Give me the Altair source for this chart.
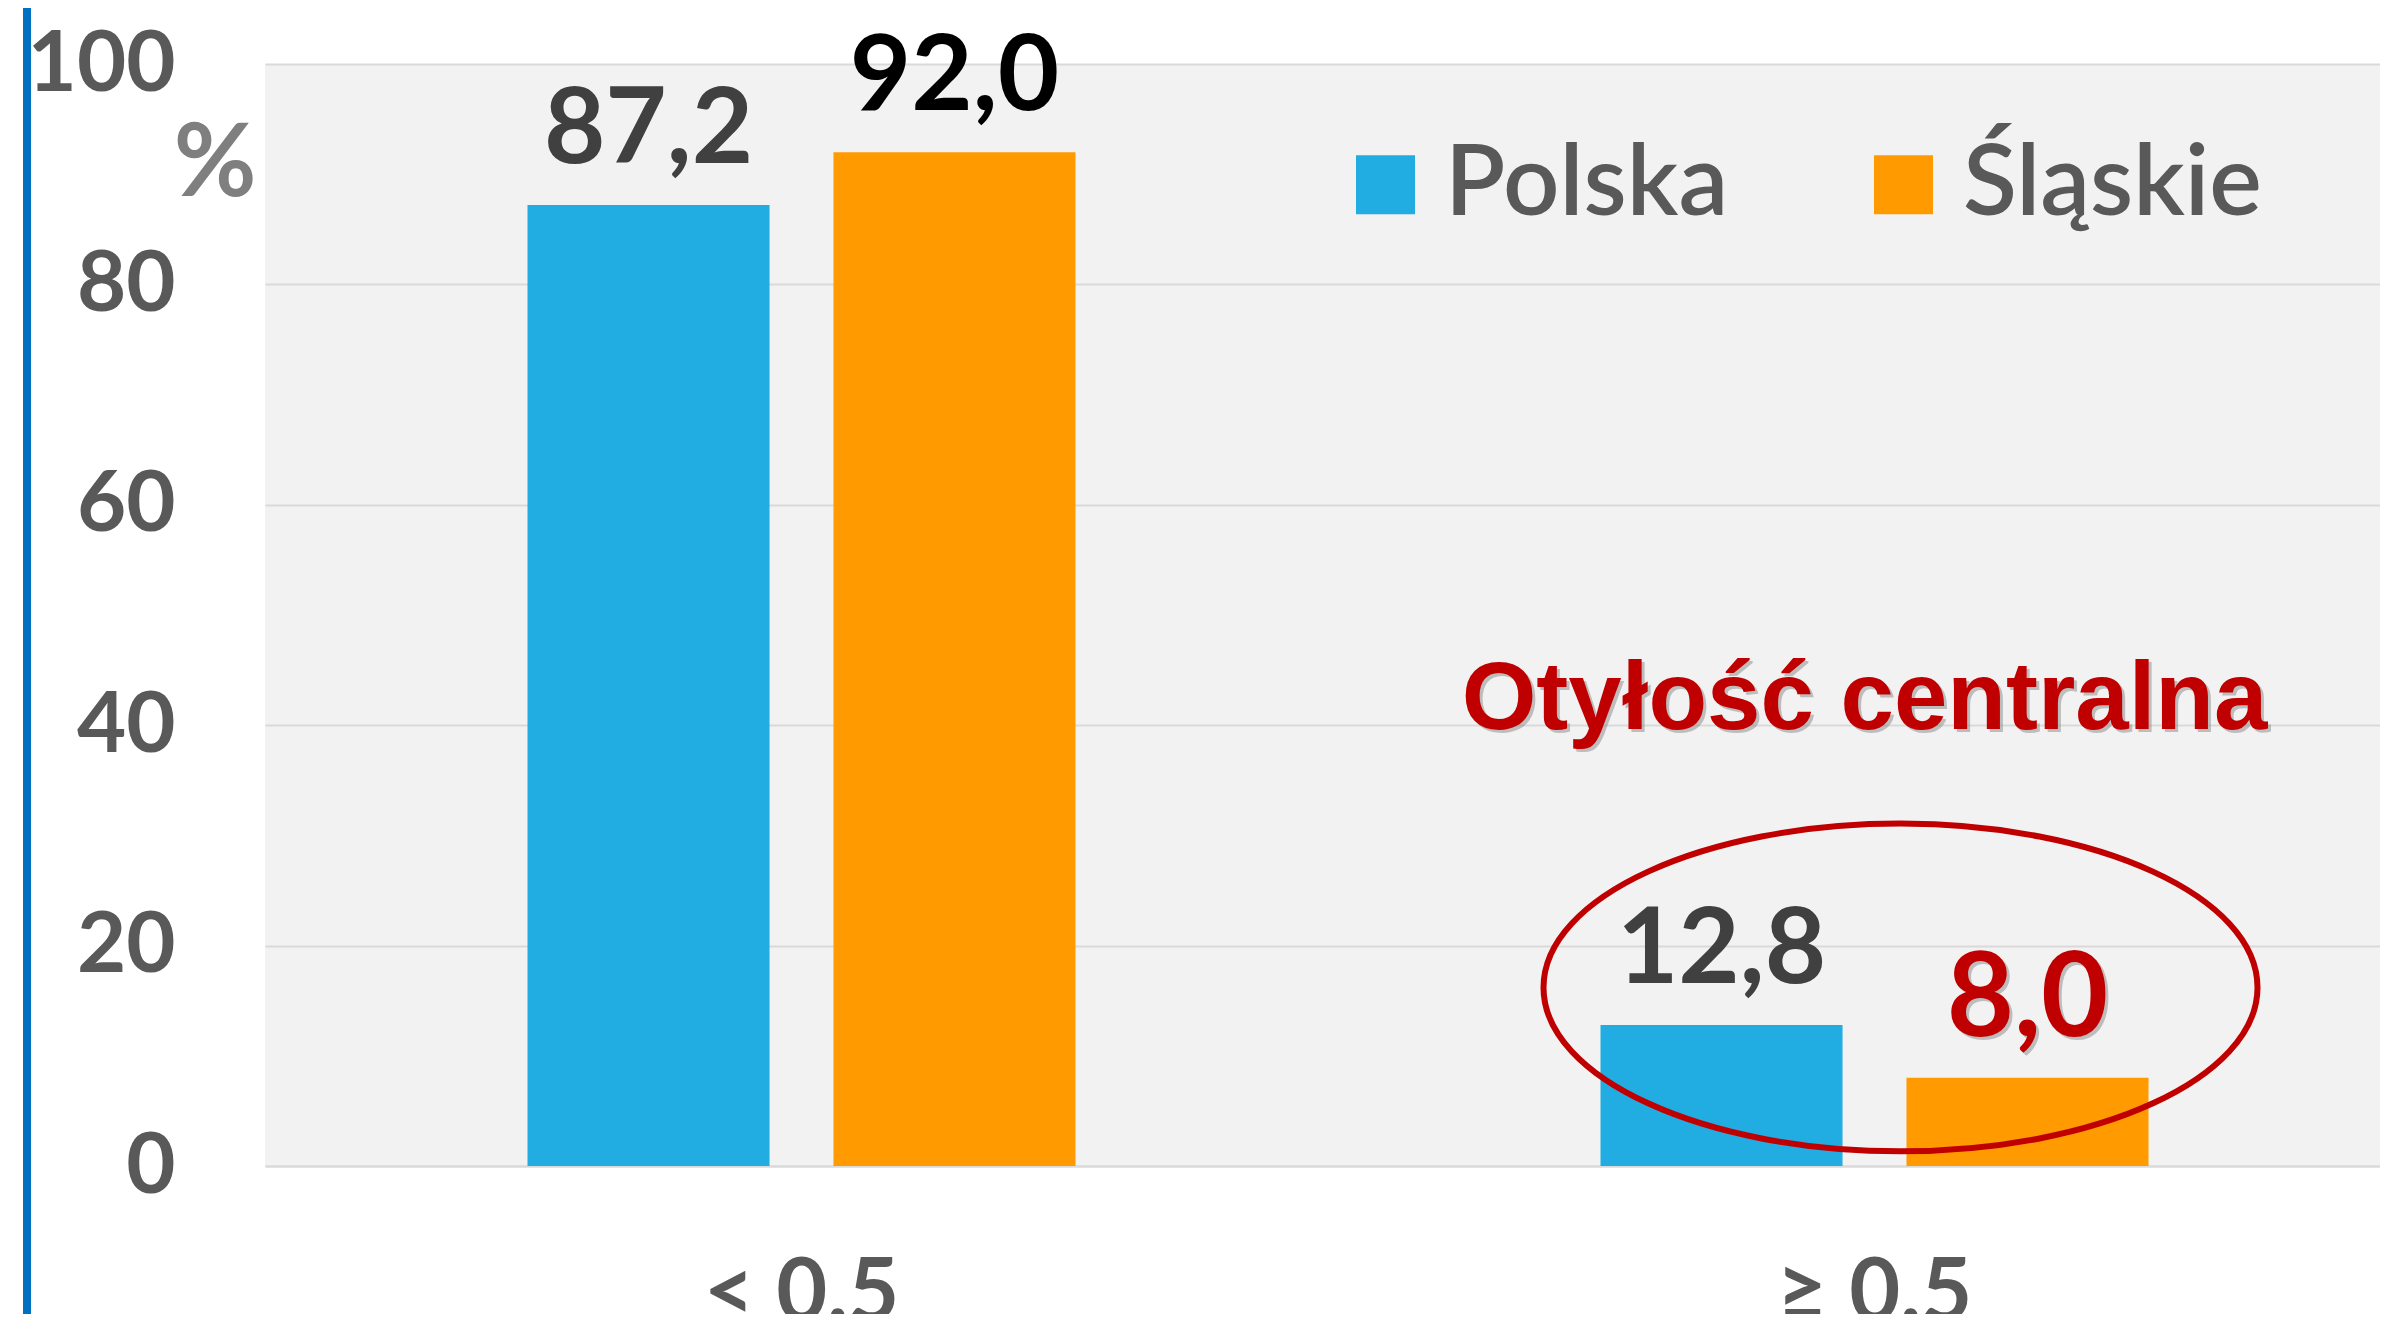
import altair as alt
import pandas as pd

# ---- data ----
categories = ["< 0.5", "≥ 0.5"]
regions = ["Polska", "Śląskie"]
polska_values = [87.2, 12.8]
slaskie_values = [92.0, 8.0]
y_ticks = [0, 20, 40, 60, 80, 100]
region_colors = ["#21ACE2", "#FF9A00"]

annotation_text = "Otyłość centralna"
annotation_category = "≥ 0.5"
annotation_value = 39.7
ellipse_value = 16.2

rows = []
for i, c in enumerate(categories):
    rows.append({"category": c, "region": regions[0], "value": polska_values[i]})
    rows.append({"category": c, "region": regions[1], "value": slaskie_values[i]})
df = pd.DataFrame(rows)

ann_df = pd.DataFrame({"category": [annotation_category], "value": [annotation_value], "text": [annotation_text]})
ell_df = pd.DataFrame({"category": [annotation_category], "value": [ellipse_value]})

W, H = 2115, 1102
DARK = "#595959"
RED = "#C00000"

x_enc = alt.X(
    "category:N",
    sort=categories,
    scale=alt.Scale(paddingInner=0.0578, paddingOuter=0.01445, align=1),
    axis=alt.Axis(
        title=None, labelAngle=0, ticks=False, tickSize=0, domain=True,
        domainColor="#D9D9D9", domainWidth=2, labelFont="Lato",
        labelFontWeight="bold", labelFontSize=88, labelColor=DARK,
        labelPadding=84, grid=False, labelLimit=0,
    ),
)
xo_enc = alt.XOffset("region:N", sort=regions,
                     scale=alt.Scale(paddingInner=0.209, paddingOuter=0.7565))
y_enc = alt.Y(
    "value:Q",
    stack=None,
    scale=alt.Scale(domain=[0, 100], nice=False),
    axis=alt.Axis(
        values=y_ticks, ticks=False, tickSize=0, domain=False, grid=True,
        gridColor="#D9D9D9", gridWidth=2, labelFont="Lato",
        labelFontWeight="bold", labelFontSize=85, labelColor=DARK,
        labelPadding=90, labelLimit=0,
        title="%", titleAngle=0, titleAlign="right", titleBaseline="alphabetic",
        titleX=-9, titleY=131, titleFont="Lato", titleFontSize=101,
        titleFontWeight="bold", titleColor="#7F7F7F",
    ),
)

bars = alt.Chart(df).mark_bar().encode(
    x=x_enc,
    xOffset=xo_enc,
    y=y_enc,
    color=alt.Color(
        "region:N", sort=regions,
        scale=alt.Scale(domain=regions, range=region_colors),
        legend=alt.Legend(
            title=None, orient="none", legendX=1071, legendY=71,
            direction="horizontal", symbolType="square", symbolSize=3481,
            symbolStrokeWidth=0, symbolOpacity=1, labelFont="Lato",
            labelFontWeight=600,
            labelFontSize=99, labelColor=DARK, labelOffset=10, labelLimit=0,
            columnPadding=125, padding=0,
        ),
    ),
)

is_red = "datum.region == 'Śląskie' && datum.category == '≥ 0.5'"
is_black = "datum.region == 'Śląskie' && datum.category == '< 0.5'"

label_base = alt.Chart(df).transform_calculate(
    label="replace(format(datum.value, '.1f'), '.', ',')"
)

label_shadow = label_base.transform_filter(is_red).mark_text(
    font="Lato", fontWeight="bold", baseline="alphabetic", dx=3, dy=-39,
    fontSize=116, color="#7F7F7F", opacity=0.45,
).encode(x=x_enc, xOffset=xo_enc, y=y_enc, text="label:N")

labels = label_base.mark_text(
    font="Lato", fontWeight="bold", baseline="alphabetic", dy=-42,
).encode(
    x=x_enc,
    xOffset=xo_enc,
    y=y_enc,
    text="label:N",
    color=alt.when(is_red).then(alt.value(RED))
    .when(is_black).then(alt.value("#000000"))
    .otherwise(alt.value("#404040")),
    size=alt.when(is_red).then(alt.value(116)).otherwise(alt.value(106)),
)

ann_shadow = alt.Chart(ann_df).mark_text(
    font="Liberation Sans", fontWeight="bold", fontSize=96,
    baseline="alphabetic", dx=-7, dy=3, color="#7F7F7F", opacity=0.45,
).encode(x=x_enc, y=y_enc, text="text:N")

ann = alt.Chart(ann_df).mark_text(
    font="Liberation Sans", fontWeight="bold", fontSize=96,
    baseline="alphabetic", dx=-10, color=RED,
).encode(x=x_enc, y=y_enc, text="text:N")

ellipse = alt.Chart(ell_df).mark_point(
    shape="M -1 0 A 1 0.459 0 1 1 1 0 A 1 0.459 0 1 1 -1 0 Z",
    size=714 * 714, filled=False, stroke=RED, strokeWidth=6, opacity=1,
    xOffset=26,
).encode(x=x_enc, y=y_enc)

side_rule = alt.Chart(ell_df).mark_rule(color="#0070C0", strokeWidth=8).encode(
    x=alt.value(-238), y=alt.value(-60), y2=alt.value(1260)
)

chart = (
    alt.layer(bars, label_shadow, labels, ann_shadow, ann, ellipse, side_rule)
    .properties(
        width=W, height=H,
        autosize=alt.AutoSizeParams(type="none"),
        padding={"left": 257, "top": 56, "right": 0, "bottom": 148},
        background="white",
    )
    .configure_view(fill="#F2F2F2", stroke=None)
)

chart.save("out.html", embed_options={"renderer": "svg", "actions": False})
